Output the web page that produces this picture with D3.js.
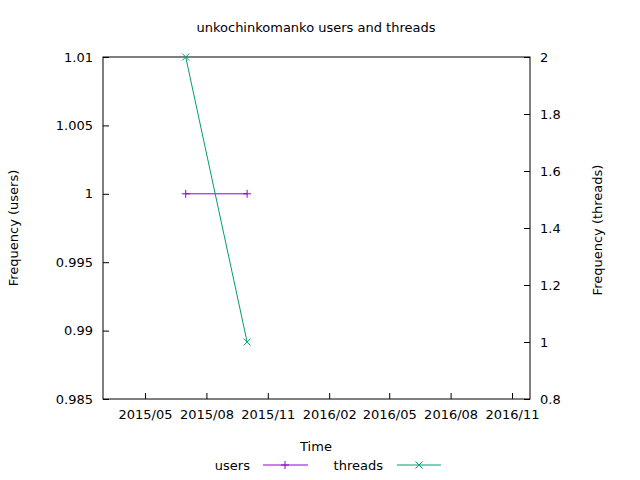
<!DOCTYPE html>
<html><head><meta charset="utf-8">
<script src="https://cdn.jsdelivr.net/npm/d3@7"></script>
<style>body{margin:0;background:#fff}text{font-family:"DejaVu Sans",sans-serif;font-size:13px;fill:#000}</style>
</head><body><div id="chart"></div>
<script>
var userDates = ["2015-07-01", "2015-10-01"];
var userValues = [1, 1];
var threadDates = ["2015-07-01", "2015-10-01"];
var threadValues = [2, 1];
var xTicks = ["2015-05-01","2015-08-01","2015-11-01","2016-02-01","2016-05-01","2016-08-01","2016-11-01"];
var yTicks = [0.985, 0.99, 0.995, 1, 1.005, 1.01];
var y2Ticks = [0.8, 1, 1.2, 1.4, 1.6, 1.8, 2];

var parse = d3.timeParse("%Y-%m-%d");
var margin = {top: 57, right: 110, bottom: 81, left: 103};
var width = 640 - margin.left - margin.right;
var height = 480 - margin.top - margin.bottom;

var svg = d3.select('#chart').append('svg').attr('width', 640).attr('height', 480);
var g = svg.append('g').attr('transform', 'translate(' + margin.left + ',' + margin.top + ')');

var x = d3.scaleTime().domain([parse("2015-02-27"), parse("2016-11-28")]).range([0, width]);
var y = d3.scaleLinear().domain([0.985, 1.01]).range([height, 0]);
var y2 = d3.scaleLinear().domain([0.8, 2]).range([height, 0]);

g.append('rect').attr('width', width).attr('height', height).attr('fill', 'none').attr('stroke', '#000');

var xa = g.append('g').attr('transform', 'translate(0,' + height + ')')
    .call(d3.axisBottom(x).tickValues(xTicks.map(parse)).tickFormat(d3.timeFormat("%Y/%m")).tickSizeInner(-6).tickSizeOuter(0));
var ya = g.append('g').call(d3.axisLeft(y).tickValues(yTicks).tickFormat(d3.format("")).tickSizeInner(-6).tickSizeOuter(0));
var y2a = g.append('g').attr('transform', 'translate(' + width + ',0)')
    .call(d3.axisRight(y2).tickValues(y2Ticks).tickFormat(d3.format("")).tickSizeInner(-6).tickSizeOuter(0));
[xa, ya, y2a].forEach(function (a) {
    a.select('.domain').remove();
    a.selectAll('text').style('font-size', '13px').style('font-family', '"DejaVu Sans",sans-serif');
});
xa.selectAll('text').attr('dy', '1.3em');
ya.selectAll('text').attr('x', -10);
y2a.selectAll('text').attr('x', 10);

function plus(sel, cx, cy, c) {
    sel.append('path').attr('d', 'M' + (cx - 4) + ',' + cy + 'h8M' + cx + ',' + (cy - 4) + 'v8').attr('stroke', c);
}
function cross(sel, cx, cy, c) {
    sel.append('path').attr('d', 'M' + (cx - 3.5) + ',' + (cy - 3.5) + 'l7,7M' + (cx - 3.5) + ',' + (cy + 3.5) + 'l7,-7').attr('stroke', c);
}

var cu = '#9400d3', ct = '#009e73';
var line = d3.line();
var up = userDates.map(function (d, i) { return [x(parse(d)), y(userValues[i])]; });
var tp = threadDates.map(function (d, i) { return [x(parse(d)), y2(threadValues[i])]; });
g.append('path').attr('d', line(up)).attr('stroke', cu).attr('fill', 'none');
up.forEach(function (p) { plus(g, p[0], p[1], cu); });
g.append('path').attr('d', line(tp)).attr('stroke', ct).attr('fill', 'none');
tp.forEach(function (p) { cross(g, p[0], p[1], ct); });

svg.append('text').attr('x', 316).attr('y', 32).attr('text-anchor', 'middle').text('unkochinkomanko users and threads');
svg.append('text').attr('x', 316).attr('y', 451).attr('text-anchor', 'middle').text('Time');
svg.append('text').attr('transform', 'translate(18,228) rotate(-90)').attr('text-anchor', 'middle').text('Frequency (users)');
svg.append('text').attr('transform', 'translate(602,230) rotate(-90)').attr('text-anchor', 'middle').text('Frequency (threads)');

svg.append('text').attr('x', 250).attr('y', 470).attr('text-anchor', 'end').text('users');
svg.append('line').attr('x1', 263).attr('x2', 308).attr('y1', 465).attr('y2', 465).attr('stroke', cu);
plus(svg, 285, 465, cu);
svg.append('text').attr('x', 383).attr('y', 470).attr('text-anchor', 'end').text('threads');
svg.append('line').attr('x1', 397).attr('x2', 441).attr('y1', 465).attr('y2', 465).attr('stroke', ct);
cross(svg, 419, 465, ct);
</script></body></html>
